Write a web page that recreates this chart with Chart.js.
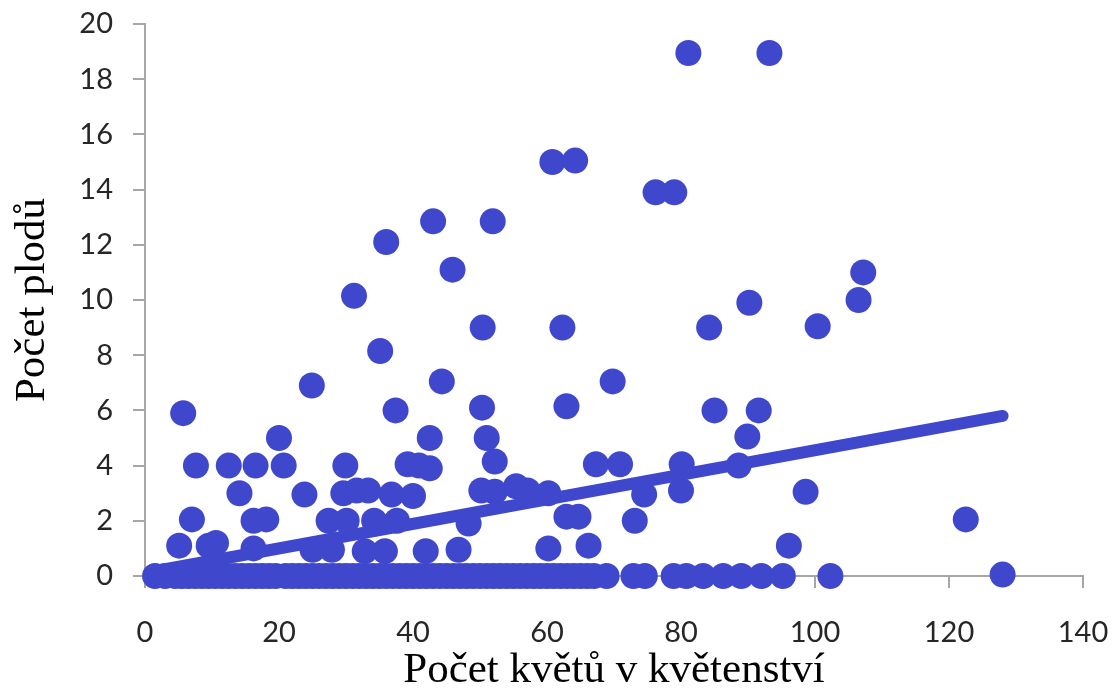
<!DOCTYPE html>
<html>
<head>
<meta charset="utf-8">
<script src="https://cdn.jsdelivr.net/npm/chart.js@4"></script>
<style>
  html, body { margin: 0; padding: 0; background: #fff; }
</style>
</head>
<body>
<canvas id="chart" width="1117" height="692"></canvas>
<script>
// scattered points (flowers in inflorescence, fruits)
var pointX = [5.7, 5.1, 7.6, 7.0, 9.5, 10.6, 12.5, 14.1, 16.5, 16.2, 16.2, 18.1, 20.0, 20.7, 23.8,
  24.9, 25.0, 27.4, 27.9, 29.9, 29.6, 30.1, 31.2, 31.6, 33.3, 32.8, 34.2, 35.1, 36.0, 35.8,
  36.8, 37.4, 37.6, 39.2, 40.0, 40.9, 42.5, 42.5, 41.9, 43.0, 44.3, 45.9, 46.8, 48.3, 50.3,
  50.4, 50.2, 51.0, 51.9, 52.2, 52.2, 55.4, 57.1, 60.2, 60.2, 60.8, 64.2, 62.3, 62.9, 62.9,
  64.7, 66.2, 67.3, 69.8, 70.9, 73.1, 74.5, 76.2, 79.0, 81.1, 80.1, 80.0, 84.2, 85.0, 88.6,
  89.9, 90.2, 91.6, 93.2, 96.1, 98.6, 100.4, 106.5, 107.2, 122.5, 128.0, 102.3];
var pointY = [5.9, 1.1, 4.0, 2.05, 1.1, 1.2, 4.0, 3.0, 4.0, 2.0, 1.0, 2.05, 5.0, 4.0, 2.95,
  6.9, 0.95, 2.0, 0.95, 4.0, 3.0, 2.0, 10.15, 3.1, 3.1, 0.9, 2.0, 8.15, 12.1, 0.9,
  2.95, 6.0, 2.0, 4.05, 2.9, 4.0, 3.9, 5.0, 0.9, 12.85, 7.05, 11.1, 0.95, 1.9, 6.1,
  9.0, 3.1, 5.0, 12.85, 4.15, 3.05, 3.25, 3.1, 3.0, 1.0, 15.0, 15.05, 9.0, 6.15, 2.15,
  2.15, 1.1, 4.05, 7.05, 4.05, 2.0, 2.95, 13.9, 13.9, 18.95, 4.05, 3.1, 9.0, 6.0, 4.0,
  5.05, 9.9, 6.0, 18.95, 1.1, 3.05, 9.05, 10.0, 11.0, 2.05, 0.05, 0.0];

// the dense row of plants with no fruit
var zeroRowX = [1.5, 3, 4.5, 5.5, 6.5, 7.5, 8.5, 9.5, 10.5, 11.5, 12.5, 13.5, 14.5, 15.5, 16.5,
  17.5, 18.5, 19.5, 21, 22, 23, 24, 25, 26, 27, 28, 29, 30, 31, 32, 33, 34, 35, 36, 37, 38,
  39, 40, 41, 42, 43, 44, 45, 46, 47, 48, 49, 50, 51, 52, 53, 54, 55, 56, 57, 58, 59, 60,
  61, 62, 63, 64, 65, 66, 67, 68.9, 72.9, 74.6, 78.9, 80.8, 83.3, 86.3, 89, 92, 95.2];

// linear trend line end points
var trendX = [2, 128];
var trendY = [0.2, 5.8];

var xTicks = [0, 20, 40, 60, 80, 100, 120, 140];
var yTicks = [0, 2, 4, 6, 8, 10, 12, 14, 16, 18, 20];

var blue = '#3f48cc';
var axisGray = '#a6a6a6';

var points = pointX.map(function (x, i) { return { x: x, y: pointY[i] }; });
zeroRowX.forEach(function (x) { points.push({ x: x, y: 0 }); });
var trend = trendX.map(function (x, i) { return { x: x, y: trendY[i] }; });

var tickFont = { family: 'Lato', size: 29 };
var titleFont = { family: 'Liberation Serif', size: 43, lineHeight: 1 };

new Chart(document.getElementById('chart'), {
  type: 'scatter',
  data: {
    datasets: [
      {
        data: trend,
        showLine: true,
        borderColor: blue,
        borderWidth: 12,
        borderCapStyle: 'round',
        pointRadius: 0,
        clip: false
      },
      {
        data: points,
        backgroundColor: blue,
        borderWidth: 0,
        pointRadius: 13,
        clip: false
      }
    ]
  },
  options: {
    responsive: false,
    animation: false,
    layout: { padding: { top: 24, right: 34, bottom: 0, left: 0 } },
    plugins: { legend: { display: false }, tooltip: { enabled: false } },
    scales: {
      x: {
        type: 'linear',
        min: 0,
        max: 140,
        afterBuildTicks: function (s) { s.ticks = xTicks.map(function (v) { return { value: v }; }); },
        afterFit: function (s) { s.height = 116; s.paddingLeft = 0; s.paddingRight = 0; },
        ticks: { font: tickFont, color: '#262626', padding: 27, maxRotation: 0 },
        grid: { drawOnChartArea: false, tickLength: 12, color: axisGray, lineWidth: 2 },
        border: { color: axisGray, width: 2 },
        title: { display: true, text: 'Počet květů v květenství', font: titleFont, color: '#000', padding: 0 }
      },
      y: {
        min: 0,
        max: 20,
        afterBuildTicks: function (s) { s.ticks = yTicks.map(function (v) { return { value: v }; }); },
        afterFit: function (s) { s.width = 145; s.paddingTop = 0; s.paddingBottom = 0; },
        ticks: { font: tickFont, color: '#262626', padding: 20 },
        grid: { drawOnChartArea: false, tickLength: 12, color: axisGray, lineWidth: 2 },
        border: { color: axisGray, width: 2 },
        title: { display: true, text: 'Počet plodů', font: titleFont, color: '#000', padding: { top: 11, bottom: 0 } }
      }
    }
  }
});
</script>
</body>
</html>
